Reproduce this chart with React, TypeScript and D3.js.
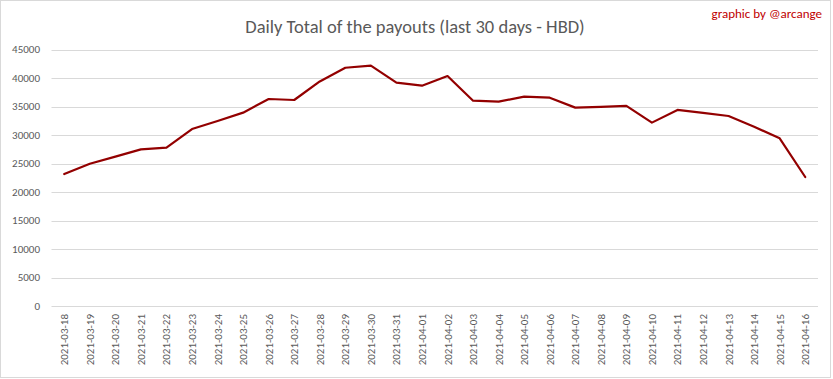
import React from "react";
import * as d3 from "d3";

const dates = [
  "2021-03-18","2021-03-19","2021-03-20","2021-03-21","2021-03-22","2021-03-23","2021-03-24","2021-03-25","2021-03-26","2021-03-27",
  "2021-03-28","2021-03-29","2021-03-30","2021-03-31","2021-04-01","2021-04-02","2021-04-03","2021-04-04","2021-04-05","2021-04-06",
  "2021-04-07","2021-04-08","2021-04-09","2021-04-10","2021-04-11","2021-04-12","2021-04-13","2021-04-14","2021-04-15","2021-04-16",
];
const payouts = [
  23150, 24950, 26200, 27480, 27780, 31050, 32450, 33920, 36320, 36140,
  39400, 41800, 42160, 39180, 38650, 40350, 36020, 35850, 36720, 36550,
  34800, 34950, 35100, 32170, 34400, 33880, 33330, 31460, 29420, 22630,
];
const yTicks = [0, 5000, 10000, 15000, 20000, 25000, 30000, 35000, 40000, 45000];

const W = 833, H = 379;
const left = 51.5, right = 818, top = 49.5, bottom = 306;
const font = "Calibri, Carlito, 'Open Sans', sans-serif";

export default function App() {
  const x = d3.scaleBand<string>().domain(dates).range([left, right]);
  const y = d3.scaleLinear().domain([0, 45000]).range([bottom, top]);
  const line = d3.line<number>()
    .x((_, i) => (x(dates[i]) as number) + x.bandwidth() / 2)
    .y((d) => y(d));
  return (
    <div style={{ position: "absolute", left: 0, top: 0 }}>
      <svg width={W} height={H} style={{ display: "block", fontFamily: font }}>
        <rect x={0} y={0} width={W} height={H} fill="#fff" />
        <rect x={0.5} y={0.5} width={830} height={377} fill="none" stroke="#d9d9d9" />
        {yTicks.map((t) => (
          <g key={t}>
            <line x1={left} x2={right} y1={Math.round(y(t)) + 0.5} y2={Math.round(y(t)) + 0.5} stroke="#d9d9d9" strokeWidth={1} />
            <text x={40} y={y(t)} dy="0.35em" textAnchor="end" fontSize={11} fill="#595959">{t}</text>
          </g>
        ))}
        {dates.map((d) => {
          const cx = (x(d) as number) + x.bandwidth() / 2;
          return (
            <text key={d} transform={`translate(${cx + 4},${314}) rotate(-90)`} textAnchor="end" fontSize={11} fill="#595959">{d}</text>
          );
        })}
        <path d={line(payouts) || ""} fill="none" stroke="#930000" strokeWidth={2.2} strokeLinejoin="round" strokeLinecap="round" />
        <text x={415} y={33} textAnchor="middle" fontSize={18.5} fill="#595959">Daily Total of the payouts (last 30 days - HBD)</text>
        <text x={822} y={18} textAnchor="end" fontSize={13} fill="#c00000">graphic by @arcange</text>
      </svg>
    </div>
  );
}
